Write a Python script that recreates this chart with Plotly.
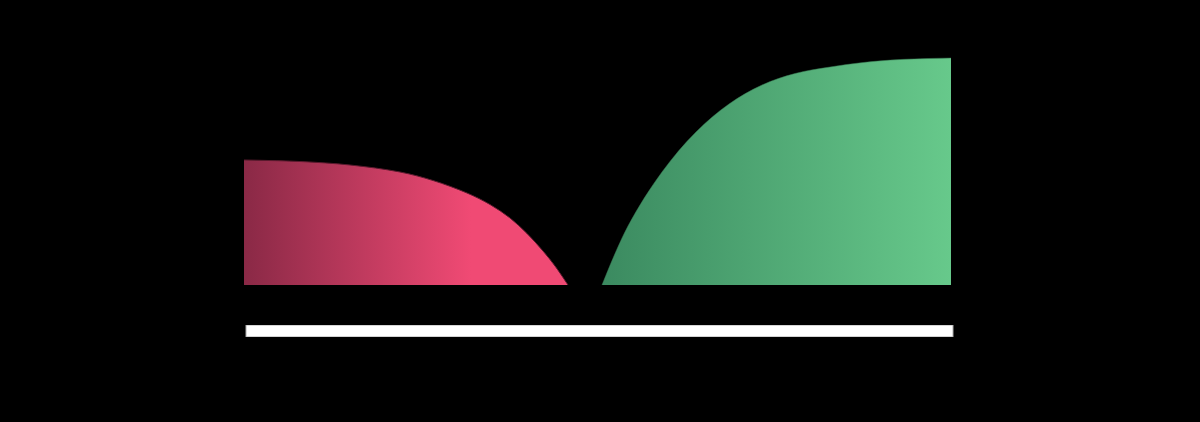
import plotly.graph_objects as go

# order book depth
bid_price = [24.4, 30.0, 35.0, 40.0, 43.3, 46.7, 49.0, 51.0, 52.7, 54.3, 55.5, 56.8]
bid_depth = [62.5, 61.75, 60, 56.5, 52.25, 46, 40.25, 33.5, 25.75, 17, 9.5, 0]

ask_price = [60.2, 62.8, 66.2, 69.6, 72.9, 76.2, 79.5, 83.0, 86.3, 90.0, 95.1]
ask_depth = [0, 29.5, 56.5, 76.5, 90.5, 100, 105.75, 109, 111.25, 112.75, 113.5]

# spread bar underneath
bar_start = [24.6]
bar_length = [70.7]

fig = go.Figure()

fig.add_trace(go.Scatter(
    x=bid_price, y=bid_depth, mode="lines", fill="tozeroy",
    line=dict(color="#5a1a2e", width=1, shape="spline", smoothing=1),
    fillgradient=dict(type="horizontal",
                      colorscale=[[0, "#8a2946"], [0.7, "#f04a74"], [1, "#f04a74"]]),
    hoverinfo="skip", showlegend=False,
))

fig.add_trace(go.Scatter(
    x=ask_price, y=ask_depth, mode="lines", fill="tozeroy",
    line=dict(color="#3a7a55", width=0.5, shape="spline", smoothing=1),
    fillgradient=dict(type="horizontal",
                      colorscale=[[0, "#3b8a60"], [1, "#67c98b"]]),
    hoverinfo="skip", showlegend=False,
))

fig.add_trace(go.Bar(
    x=bar_length, base=bar_start, y=[0], orientation="h", width=1,
    marker=dict(color="white", line=dict(color="#aaaaaa", width=1)),
    xaxis="x", yaxis="y2", hoverinfo="skip", showlegend=False,
))

fig.update_layout(
    width=1200, height=422,
    paper_bgcolor="black", plot_bgcolor="black",
    margin=dict(l=244, r=246, t=20, b=20),
    xaxis=dict(range=[24.4, 95.4], visible=False, fixedrange=True),
    yaxis=dict(range=[0, 114], domain=[0.3063, 0.9031], visible=False),
    yaxis2=dict(range=[-0.5, 0.5], domain=[0.1702, 0.2016], visible=False),
)

# drop the default page margin so the chart sits at the window edge
fig.write_html("out.html", config={"displayModeBar": False},
               post_script="document.body.style.margin='0';")
